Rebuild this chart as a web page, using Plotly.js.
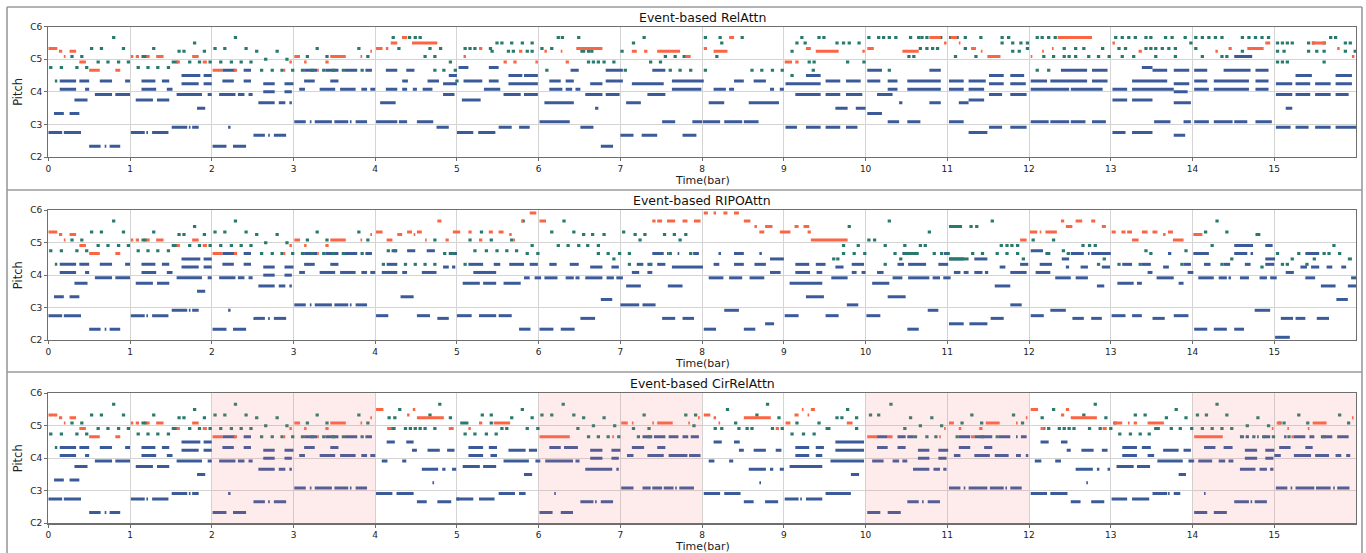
<!DOCTYPE html>
<html><head><meta charset="utf-8">
<script src="https://cdn.plot.ly/plotly-3.0.1.min.js"></script>
<style>html,body{margin:0;padding:0;background:#fff}#chart{width:1366px;height:553px}</style>
</head><body><div id="chart"></div>
<script>
// ---------- DATA (time in bars, pitch in MIDI numbers) ----------
const barTicks = [0,1,2,3,4,5,6,7,8,9,10,11,12,13,14,15];
const pitchTicks = [36,48,60,72,84];
const pitchLabels = ["C2","C3","C4","C5","C6"];
const panelTitles = ["Event-based RelAttn","Event-based RIPOAttn","Event-based CirRelAttn"];
const shadedBars = [[2,4],[6,8],[10,12],[14,16]];
const shortNoteLen = 0.04; // short notes given as [start, pitch]

// shared 4-bar prompt
const promptOrange = [[0.00,0.11,76],[0.13,0.17,75],[0.19,0.21,73],[0.26,0.34,75],[0.38,0.46,71],[0.50,0.63,68],[0.82,0.88,68],
[1.01,1.04,73],[1.07,1.11,73],[1.20,1.24,73],[1.32,1.41,73],[1.57,1.61,71],[1.76,1.84,73],[1.89,1.94,71],
[2.01,2.13,68],[2.27,2.31,68],[2.88,2.90,68],[2.95,2.98,71],
[3.01,3.08,73],[3.13,3.16,71],[3.29,3.31,68],[3.39,3.43,71],[3.45,3.64,73],[3.82,3.84,73],[3.94,3.96,75]];
const promptTeal = [[0.01,69],[0.14,69],[0.08,0.11,64],[0.27,73],[0.33,69],[0.39,73],[0.45,69],[0.51,76],[0.63,76],[0.59,71],[0.71,71],[0.78,80],[0.84,71],[0.90,76],[0.96,71],
[1.08,69],[1.14,73],[1.17,73],[1.20,69],[1.27,76],[1.32,69],[1.45,69],[1.51,1.59,71],[1.58,75],[1.64,75],[1.71,71],[1.77,78],[1.83,71],[1.89,75],[1.96,71],
[2.02,76],[2.09,71],[2.14,76],[2.22,71],[2.27,80],[2.34,71],[2.40,76],[2.46,71],[2.53,75],[2.59,68],[2.64,72],[2.72,68],[2.78,75],[2.84,68],[2.90,72],[2.97,68],
[3.09,68],[3.15,73],[3.21,68],[3.27,76],[3.35,68],[3.39,73],[3.47,68],[3.59,68],[3.78,76],[3.82,68],[3.89,73]];
const promptBlue = [[0.14,0.34,64],[0.38,0.50,64],[0.63,0.78,64],[0.94,1.00,64],[0.14,0.34,61],[0.45,0.50,61],[0.57,0.78,59],[0.82,1.00,59],[0.32,0.48,57],[0.07,0.19,52],[0.26,0.38,52],[0.00,0.17,45],[0.19,0.40,45],[0.50,0.64,40],[0.69,0.71,40],[0.75,0.88,40],
[1.14,1.31,64],[1.39,1.48,64],[1.14,1.32,61],[1.45,1.52,61],[1.07,1.28,57],[1.33,1.48,57],[1.57,1.88,59],[1.95,2.00,59],[1.63,1.86,66],[1.90,2.00,66],[1.63,1.84,63],[1.90,2.00,63],[1.82,1.92,54],[1.01,1.18,45],[1.20,1.22,45],[1.27,1.47,45],[1.51,1.70,47],[1.72,1.74,47],[1.76,1.84,47],
[2.13,2.29,68],[2.39,2.48,68],[2.13,2.27,64],[2.39,2.48,64],[2.63,2.77,63],[2.89,3.00,63],[2.63,2.77,60],[2.89,2.98,60],[2.09,2.29,59],[2.32,2.40,59],[2.45,2.50,59],[2.57,2.77,56],[2.82,2.90,56],[2.95,2.98,56],[2.20,2.23,47],[2.01,2.18,40],[2.26,2.42,40],[2.51,2.65,44],[2.69,2.71,44],[2.76,2.91,44],
[3.13,3.29,68],[3.39,3.55,68],[3.63,3.78,68],[3.88,3.96,68],[3.13,3.26,64],[3.45,3.55,64],[3.07,3.14,61],[3.32,3.51,61],[3.57,3.76,61],[3.83,3.90,61],[3.94,4.00,61],[3.01,3.15,49],[3.20,3.22,49],[3.26,3.47,49],[3.50,3.67,49],[3.69,3.71,49],[3.76,3.90,49]];

// RelAttn continuation
const relOrange = [[4.01,4.09,76],[4.13,4.16,76],[4.19,4.27,78],[4.33,4.39,80],[4.45,4.76,78],
[5.08,5.11,73],[5.27,5.31,76],[5.57,5.61,71],[5.69,5.73,71],[5.76,5.80,75],[5.96,5.99,71],[6.07,6.10,75],[6.27,6.29,75],[6.33,6.37,71],[6.46,6.78,76],
[7.14,7.20,75],[7.29,7.33,75],[7.45,7.73,75],[7.80,7.86,73],[8.02,8.06,76],[8.14,8.31,75],[8.33,8.39,80],
[9.01,9.10,71],[9.14,9.18,71],[9.27,9.33,76],[9.39,9.67,75],[9.96,9.99,75],[10.02,10.10,76],[10.45,10.65,75],[10.78,10.92,80],[10.96,10.99,78],
[11.04,11.12,80],[11.14,11.16,78],[11.29,11.35,76],[11.41,11.43,75],[11.49,11.65,73],[12.02,12.04,73],[12.16,12.18,75],[12.28,12.30,76],[12.35,12.77,80],
[13.02,13.05,78],[13.34,13.38,75],[14.28,14.31,75],[14.44,14.48,76],[14.67,14.87,76],[14.89,14.95,78],[15.46,15.63,78],[15.77,15.80,76],[15.95,15.98,73]];
const relTeal = [[4.20,80],[4.27,76],[4.33,80],[4.40,80],[4.47,80],[4.53,80],[4.59,73],[4.65,76],[4.71,73],[4.71,68],[4.78,76],[4.82,4.86,68],[4.90,71],[4.96,68],[4.98,64],
[5.08,76],[5.14,76],[5.20,76],[5.39,76],[5.41,75],[5.47,78],[5.53,78],[5.61,75],[5.65,78],[5.67,75],[5.78,78],[5.84,75],[5.90,78],[5.90,75],
[6.02,76],[6.08,68],[6.14,76],[6.22,80],[6.27,80],[6.47,80],[6.51,6.57,75],[6.59,75],[6.63,75],[6.59,71],[6.65,71],[6.71,71],[6.78,71],[6.90,71],
[7.00,75],[7.04,68],[7.14,78],[7.27,80],[7.35,71],[7.47,71],[7.53,73],[7.59,68],[7.65,73],[7.71,68],[7.76,73],[7.84,68],
[8.02,80],[8.02,68],[8.16,73],[8.20,80],[8.22,78],[8.47,80],[8.59,68],[8.71,68],[8.84,68],[8.96,68],
[9.08,66],[9.08,75],[9.14,78],[9.20,80],[9.24,78],[9.29,71],[9.34,68],[9.35,71],[9.41,80],[9.47,80],[9.63,78],[9.71,78],[9.76,71],[9.78,78],[9.90,78],[9.96,71],
[10.02,80],[10.14,80],[10.20,80],[10.27,80],[10.27,68],[10.35,80],[10.51,73],[10.53,80],[10.57,73],[10.63,80],[10.65,76],[10.67,80],[10.73,80],[10.73,76],[10.80,76],[10.84,80],[10.86,76],[10.90,80],
[11.02,80],[11.08,73],[11.10,80],[11.20,80],[11.20,76],[11.33,73],[11.39,80],[11.65,80],[11.65,78],[11.73,80],[11.78,78],[11.78,75],[11.86,75],[11.88,78],[11.96,78],[11.96,76],
[12.08,80],[12.08,68],[12.14,80],[12.16,73],[12.22,80],[12.22,68],[12.28,73],[12.30,80],[12.41,76],[12.41,73],[12.47,80],[12.47,73],[12.55,80],[12.55,76],[12.55,73],[12.65,80],[12.65,76],[12.71,73],[12.83,73],[12.88,76],[12.96,73],
[13.04,80],[13.08,76],[13.12,80],[13.12,73],[13.16,76],[13.20,80],[13.26,73],[13.28,80],[13.41,80],[13.41,76],[13.47,80],[13.47,76],[13.53,76],[13.53,73],[13.61,76],[13.65,80],[13.69,76],[13.73,80],[13.77,76],[13.77,73],[13.89,80],[13.96,78],
[14.02,80],[14.02,76],[14.10,80],[14.10,73],[14.18,80],[14.26,80],[14.34,80],[14.34,73],[14.40,73],[14.59,80],[14.59,75],[14.67,80],[14.75,80],[14.83,80],[14.91,80],
[15.02,78],[15.02,75],[15.02,71],[15.08,78],[15.08,71],[15.10,75],[15.14,78],[15.14,71],[15.20,78],[15.40,78],[15.40,75],[15.46,78],[15.50,75],[15.59,78],[15.59,75],[15.59,71],[15.67,80],[15.73,80],[15.85,78],[15.85,75],[15.91,78],[15.97,75]];
const relBlue = [[4.13,4.27,68],[4.38,4.48,68],[4.33,4.40,64],[4.64,4.78,64],[4.13,4.27,61],[4.33,4.39,61],[4.46,4.51,61],[4.58,4.70,61],[4.06,4.25,56],[4.83,4.97,59],[4.83,5.00,63],[4.90,5.00,66],[4.01,4.27,49],[4.29,4.39,49],[4.51,4.71,49],[4.75,4.90,47],
[5.02,5.14,69],[5.39,5.51,69],[5.08,5.31,64],[5.39,5.51,64],[5.63,5.80,66],[5.82,5.99,66],[5.63,5.99,63],[5.33,5.53,61],[5.57,5.78,59],[5.82,5.99,59],[5.06,5.29,57],[5.00,5.20,45],[5.26,5.47,45],[5.51,5.67,47],[5.76,5.89,47],
[6.01,6.38,49],[6.51,6.67,47],[6.76,6.91,40],[6.07,6.43,56],[6.69,6.73,54],[6.13,6.27,64],[6.33,6.43,64],[6.13,6.29,61],[6.33,6.41,61],[6.45,6.51,61],[6.39,6.49,68],[6.57,6.78,59],[6.82,6.99,59],[6.63,6.78,63],[6.82,7.03,64],[6.82,7.03,68],
[7.00,7.16,44],[7.26,7.45,44],[7.51,7.67,49],[7.76,7.93,44],[7.88,8.00,49],[8.01,8.22,49],[8.27,8.49,49],[8.51,8.69,49],[7.07,7.25,56],[7.33,7.55,59],[7.14,7.53,63],[7.39,7.55,68],[7.63,8.02,64],[7.63,7.99,61],
[8.08,8.27,56],[8.57,8.94,56],[8.14,8.29,61],[8.33,8.39,61],[8.39,8.51,64],[8.63,8.78,64],[8.83,8.88,61],[8.95,9.00,61],
[9.02,9.16,47],[9.27,9.45,47],[9.51,9.69,47],[9.76,9.90,47],[9.02,9.45,63],[9.14,9.45,59],[9.51,9.69,59],[9.76,9.96,59],[9.27,9.45,66],[9.51,9.69,64],[9.76,9.94,64],[9.63,9.78,54],[9.88,10.00,54],
[10.02,10.20,52],[10.02,10.20,68],[10.02,10.18,64],[10.27,10.39,64],[10.14,10.33,59],[10.27,10.39,61],[10.27,10.41,49],
[10.41,10.45,56],[10.51,10.67,49],[10.51,10.92,64],[10.51,10.92,61],[10.78,10.92,68],[10.78,10.92,56],
[11.02,11.20,64],[11.26,11.47,64],[11.02,11.20,61],[11.26,11.45,61],[11.02,11.20,49],[11.14,11.26,56],[11.26,11.45,57],[11.26,11.49,45],[11.51,11.69,66],[11.77,11.94,66],[11.51,11.69,63],[11.77,11.96,63],[11.51,11.67,59],[11.77,11.97,59],[11.51,11.67,47],[11.77,11.97,47],
[12.02,12.22,64],[12.26,12.71,64],[12.77,12.96,64],[12.02,12.49,61],[12.51,12.90,61],[12.39,12.71,68],[12.77,12.96,68],[12.02,12.24,49],[12.26,12.49,49],[12.51,12.69,49],[12.77,12.94,49],
[13.02,13.20,61],[13.26,13.77,61],[13.02,13.20,57],[13.26,13.51,57],[13.02,13.18,45],[13.26,13.51,45],[13.26,13.69,64],[13.38,13.51,69],[13.51,13.69,68],[13.77,13.96,68],[13.77,13.96,63],[13.77,13.94,60],[13.77,13.98,56],[13.77,13.91,44],[13.53,13.73,49],[13.89,13.98,49],
[14.02,14.20,49],[14.26,14.49,49],[14.51,14.67,49],[14.77,14.97,49],[14.02,14.18,68],[14.38,14.71,68],[14.77,14.93,68],[14.02,14.18,64],[14.26,14.69,64],[14.77,14.93,64],[14.02,14.20,61],[14.26,14.69,61],[14.77,14.93,61],[14.51,14.73,73],
[15.02,15.22,63],[15.26,15.44,63],[15.50,15.69,63],[15.75,15.95,63],[15.26,15.46,66],[15.75,15.95,66],[15.02,15.22,59],[15.26,15.44,59],[15.50,15.69,59],[15.75,15.91,59],[15.14,15.22,54],[15.02,15.20,47],[15.26,15.42,47],[15.50,15.69,47],[15.75,16.00,47]];

// RIPOAttn continuation
const ripoOrange = [[4.01,4.09,76],[4.14,4.21,73],[4.27,4.33,75],[4.39,4.45,76],[4.47,4.49,75],[4.51,4.57,76],[4.61,4.63,73],[4.76,4.81,80],[4.86,4.90,73],[4.95,5.04,76],
[5.14,5.18,76],[5.27,5.31,73],[5.39,5.44,76],[5.51,5.57,76],[5.64,5.67,75],[5.69,5.71,73],[5.79,5.81,80],[5.89,5.97,83],[6.01,6.09,80],
[7.39,7.43,80],[7.45,7.51,80],[7.57,7.67,80],[7.76,7.82,80],[7.90,7.98,80],[8.02,8.07,83],[8.14,8.17,83],[8.26,8.31,83],[8.39,8.45,83],[8.51,8.59,80],[8.64,8.67,78],[8.70,8.76,76],[8.77,8.86,78],[8.95,9.08,76],[9.13,9.18,78],[9.24,9.31,78],[9.29,9.33,76],[9.33,9.78,73],
[11.89,11.97,73],[12.01,12.10,76],[12.13,12.15,76],[12.20,12.34,76],[12.39,12.43,80],[12.45,12.53,78],[12.57,12.65,80],[12.76,12.81,80],[12.89,12.94,78],
[13.01,13.06,76],[13.13,13.18,76],[13.20,13.26,76],[13.26,13.34,73],[13.38,13.45,76],[13.51,13.57,76],[13.64,13.67,75],[13.70,13.76,76],[13.76,13.89,73],[14.01,14.12,75]];
const ripoTeal = [[4.08,64],[4.14,69],[4.22,69],[4.35,64],[4.47,64],[4.59,64],[4.71,64],[4.71,73],[4.83,68],[4.92,4.98,68],
[5.08,64],[5.14,73],[5.20,69],[5.28,76],[5.34,69],[5.40,73],[5.47,69],[5.59,69],[5.65,73],[5.71,69],[5.79,80],[5.84,68],[5.90,71],[5.97,68],
[6.14,76],[6.22,71],[6.29,80],[6.34,71],[6.41,76],[6.47,71],[6.53,75],[6.58,71],[6.64,75],[6.71,71],[6.71,68],[6.78,75],[6.83,68],[6.90,66],[6.97,68],
[7.02,76],[7.09,68],[7.09,64],[7.16,75],[7.22,73],[7.28,75],[7.35,64],[7.52,75],[7.59,68],[7.64,75],[7.71,73],[7.78,75],[7.84,68],
[9.59,66],[9.64,66],[9.71,71],[9.71,68],[9.78,78],[9.84,68],[9.89,71],[9.97,68],[10.02,73],[10.09,73],[10.22,71],[10.22,64],[10.27,80],[10.34,68],[10.41,66],
[10.46,71],[10.47,10.65,68],[10.65,71],[10.71,71],[10.76,76],[10.82,68],[10.91,68],[10.98,68],[11.02,11.18,78],[11.02,11.26,66],[11.27,78],[11.29,68],[11.34,78],[11.41,68],[11.53,80],[11.59,68],[11.64,71],[11.71,71],[11.71,68],[11.77,71],[11.84,71],[11.84,68],[11.91,66],
[12.03,73],[12.21,68],[12.28,73],[12.40,69],[12.46,68],[12.64,71],[12.72,71],[12.79,71],[12.83,64],[12.90,66],
[13.08,64],[13.34,64],[13.41,69],[13.47,68],[13.85,64],[13.90,69],
[14.14,76],[14.22,71],[14.28,80],[14.34,64],[14.40,76],[14.46,66],[14.77,14.83,75],[14.83,63],
[15.02,68],[15.08,64],[15.14,64],[15.20,15.24,66],[15.28,68],[15.38,64],[15.47,66],[15.59,68],[15.65,68],[15.71,71],[15.78,68],[15.90,15.95,66]];
const ripoBlue = [[4.14,4.27,64],[4.08,4.27,61],[4.33,4.39,61],[4.57,4.75,61],[4.20,4.27,69],[4.39,4.49,69],[4.63,4.73,69],[4.83,4.90,63],[4.94,4.98,63],[4.90,5.00,68],[4.31,4.47,52],[4.01,4.16,45],[4.51,4.67,45],[4.76,4.90,44],
[5.14,5.32,64],[5.45,5.53,64],[5.64,5.82,64],[5.89,5.99,64],[5.20,5.48,61],[5.07,5.28,57],[5.32,5.48,57],[5.57,5.78,57],[5.82,5.89,59],[5.95,6.03,59],[5.00,5.18,45],[5.27,5.48,45],[5.51,5.67,45],[5.76,5.90,40],
[6.13,6.22,64],[6.38,6.49,64],[6.07,6.23,59],[6.33,6.43,59],[6.45,6.50,59],[6.57,6.78,59],[6.83,6.92,59],[6.95,7.03,59],[6.63,6.78,63],[6.89,6.98,63],[6.01,6.18,40],[6.27,6.44,40],[6.51,6.69,44],[6.76,6.90,51],
[7.00,7.23,49],[7.27,7.43,49],[7.07,7.25,56],[7.58,7.76,56],[7.14,7.23,61],[7.33,7.39,61],[7.20,7.28,64],[7.33,7.39,64],[7.39,7.53,68],[7.45,7.55,64],[7.63,7.90,63],[7.90,8.01,63],[7.57,7.59,68],[7.70,7.72,68],[7.89,7.96,68],[7.51,7.67,44],[7.76,7.90,44],
[8.02,8.17,40],[8.51,8.65,40],[8.27,8.45,47],[8.77,8.88,42],[8.08,8.26,59],[8.33,8.49,59],[8.58,8.76,59],[8.14,8.21,64],[8.39,8.51,64],[8.64,8.78,64],[8.20,8.23,68],[8.39,8.51,68],[8.70,8.73,68],[8.83,9.00,66],[8.83,8.96,61],
[9.01,9.18,45],[9.51,9.67,45],[9.07,9.47,57],[9.27,9.49,52],[9.77,9.91,49],[9.14,9.31,64],[9.39,9.51,64],[9.63,9.73,63],[9.83,9.98,64],[9.14,9.32,61],[9.40,9.47,61],[9.83,9.89,61],[9.95,10.00,61],[9.58,9.78,59],
[10.01,10.18,45],[10.08,10.29,57],[10.27,10.49,52],[10.14,10.22,61],[10.33,10.45,59],[10.39,10.47,64],
[10.52,10.74,64],[10.89,11.01,64],[10.52,10.78,59],[10.82,10.91,59],[10.95,11.04,59],[10.76,10.89,47],[10.51,10.65,40],[10.45,10.51,68],[10.96,11.03,68],
[11.02,11.20,66],[11.33,11.49,66],[11.08,11.16,61],[11.20,11.26,61],[11.33,11.43,61],[11.46,11.50,61],[11.58,11.77,56],[11.77,11.91,49],[11.02,11.20,42],[11.27,11.49,42],[11.53,11.69,44],[11.64,11.71,63],[11.77,11.97,61],[11.89,11.99,64],
[12.02,12.17,69],[12.20,12.26,68],[12.40,12.49,66],[12.51,12.67,68],[12.72,12.74,68],[12.76,13.00,68],[12.13,12.28,64],[12.45,12.49,63],[12.63,12.72,63],[12.89,12.99,63],[12.08,12.26,61],[12.32,12.51,59],[12.57,12.72,59],[12.83,12.92,56],[12.02,12.18,45],[12.26,12.45,47],[12.53,12.67,44],[12.76,12.89,44],
[13.01,13.18,45],[13.26,13.38,45],[13.51,13.66,44],[13.77,13.95,45],[13.08,13.28,57],[13.32,13.38,57],[13.14,13.26,64],[13.38,13.49,64],[13.64,13.71,63],[13.89,13.98,64],[13.45,13.51,61],[13.94,14.01,61],[13.56,13.77,59],[13.83,13.89,57],[13.70,13.74,68],
[14.01,14.20,68],[14.51,14.67,68],[14.71,14.74,68],[14.51,14.74,71],[14.89,14.98,71],[14.14,14.22,64],[14.38,14.46,64],[14.64,14.71,64],[14.89,15.00,64],[14.89,15.01,66],[14.07,14.26,59],[14.32,14.42,59],[14.44,14.47,59],[14.58,14.69,59],[14.82,14.91,59],[14.95,15.03,59],[14.76,14.95,47],[14.02,14.18,40],[14.26,14.42,40],[14.51,14.63,40],
[15.01,15.19,37],[15.08,15.23,44],[15.26,15.38,44],[15.52,15.67,44],[15.14,15.24,61],[15.32,15.40,63],[15.45,15.55,63],[15.64,15.71,63],[15.82,15.88,63],[15.38,15.55,68],[15.38,15.50,59],[15.57,15.75,56],[15.90,16.00,56],[15.76,15.90,51],[15.94,16.00,59]];

// CirRelAttn continuation
const cirOrange = [[4.01,4.10,78],[4.15,4.20,71],[4.39,4.42,76],[4.46,4.49,78],[4.51,4.84,75],[4.90,4.96,71],
[5.14,5.17,71],[5.27,5.31,73],[5.45,5.65,73],[6.01,6.38,68],[6.90,6.92,68],[7.01,7.09,73],[7.14,7.16,73],[7.39,7.41,73],[7.45,7.64,73],[7.83,7.85,73],[7.95,7.97,75],
[8.02,8.10,76],[8.14,8.17,75],[8.20,8.22,73],[8.51,8.84,75],[8.90,8.94,71],[9.02,9.08,73],[9.13,9.18,76],[9.22,9.24,78],[9.29,9.31,76],[9.33,9.38,78],[9.77,9.84,73],[10.02,10.14,68],[10.27,10.33,68],
[10.90,10.92,68],[10.96,10.98,71],[11.02,11.08,73],[11.14,11.17,71],[11.29,11.33,68],[11.39,11.43,71],[11.47,11.64,73],[11.84,11.86,73],[11.96,11.98,75],
[12.02,12.11,78],[12.14,12.19,71],[12.39,12.43,76],[12.45,12.49,78],[12.51,12.83,75],[12.90,12.95,71],[13.04,13.14,73],[13.21,13.23,73],[13.28,13.32,73],[13.45,13.65,73],[14.02,14.37,68],
[14.97,14.99,71],[15.03,15.08,73],[15.16,15.18,71],[15.21,15.24,68],[15.41,15.43,71],[15.47,15.64,73],[15.95,15.97,75]];
const cirTeal = [[4.15,75],[4.22,75],[4.28,78],[4.15,4.25,71],[4.35,71],[4.41,71],[4.47,71],[4.53,71],[4.59,71],[4.65,76],[4.71,71],[4.77,80],[4.90,75],
[5.04,5.14,73],[5.08,69],[5.20,69],[5.29,76],[5.34,69],[5.40,76],[5.40,73],[5.46,69],[5.53,71],[5.59,71],[5.65,75],[5.78,78],[5.84,71],[5.90,75],[5.97,71],
[6.02,76],[6.14,76],[6.28,80],[6.41,76],[6.46,71],[6.53,75],[6.59,68],[6.65,72],[6.71,68],[6.78,75],[6.83,68],[6.91,72],[6.96,68],
[7.14,71],[7.20,68],[7.27,76],[7.33,68],[7.33,71],[7.78,76],[7.88,72],[7.90,76],
[8.14,71],[8.22,71],[8.29,78],[8.39,73],[8.43,71],[8.53,71],[8.59,71],[8.65,76],[8.78,80],[8.84,71],[8.92,75],[8.96,71],
[9.08,69],[9.14,73],[9.22,69],[9.35,69],[9.41,73],[9.51,9.57,71],[9.63,75],[9.69,75],[9.76,78],[9.87,75],[9.87,71],
[10.04,76],[10.14,76],[10.29,80],[10.46,71],[10.53,75],[10.59,68],[10.65,72],[10.73,68],[10.79,75],[10.84,68],[10.91,72],
[11.10,68],[11.16,73],[11.28,76],[11.40,73],[11.41,68],[11.59,68],[11.79,76],[11.90,73],
[12.14,75],[12.16,71],[12.22,71],[12.28,78],[12.35,71],[12.41,71],[12.47,71],[12.53,71],[12.65,76],[12.72,71],[12.79,80],[12.85,71],[12.92,75],[12.98,71],
[13.03,73],[13.09,69],[13.22,69],[13.28,76],[13.34,69],[13.40,76],[13.45,69],[13.53,13.60,71],[13.66,75],[13.72,71],[13.78,78],[13.83,71],[13.90,75],[13.97,71],
[14.04,76],[14.10,71],[14.15,76],[14.22,71],[14.28,80],[14.34,71],[14.40,76],[14.46,71],[14.59,68],[14.65,72],[14.73,68],[14.78,75],[14.85,68],[14.91,72],[14.97,68],
[15.05,73],[15.10,73],[15.16,68],[15.28,76],[15.39,73],[15.59,68],[15.78,76],[15.89,73]];
const cirBlue = [[4.14,4.24,66],[4.38,4.47,66],[4.45,4.51,63],[4.64,4.79,63],[4.88,4.97,63],[4.08,4.15,59],[4.33,4.38,59],[4.57,4.77,56],[4.82,4.86,56],[4.94,4.99,56],[4.70,4.72,51],[4.01,4.21,47],[4.26,4.47,47],[4.51,4.63,44],[4.76,4.93,44],[4.99,5.03,45],
[5.14,5.32,64],[5.39,5.49,64],[5.14,5.32,61],[5.41,5.49,61],[5.07,5.28,57],[5.32,5.48,57],[5.57,5.88,59],[5.96,6.02,59],[5.63,5.84,63],[5.88,5.98,63],[5.82,5.92,54],[5.00,5.20,45],[5.27,5.46,45],[5.51,5.71,47],[5.76,5.84,47],
[6.01,6.17,40],[6.27,6.42,40],[6.19,6.21,47],[6.13,6.27,64],[6.31,6.48,64],[6.08,6.42,59],[6.45,6.50,59],[6.63,6.78,63],[6.89,7.00,63],[6.63,6.78,60],[6.89,6.98,60],[6.57,6.90,56],[6.95,6.98,56],[6.51,6.67,44],[6.69,6.71,44],[6.76,6.91,44],
[7.08,7.16,61],[7.33,7.53,61],[7.59,7.82,61],[7.84,7.98,61],[7.14,7.29,64],[7.45,7.55,64],[7.27,7.39,68],[7.41,7.55,68],[7.59,7.71,68],[7.76,7.83,68],[7.86,7.96,68],[7.01,7.16,49],[7.27,7.37,49],[7.39,7.51,49],[7.53,7.65,49],[7.67,7.69,49],[7.72,7.90,49],
[8.02,8.22,47],[8.27,8.47,47],[8.14,8.24,66],[8.39,8.46,66],[8.45,8.51,63],[8.63,8.78,63],[8.90,8.97,63],[8.08,8.15,59],[8.33,8.38,59],[8.57,8.78,56],[8.83,8.87,56],[8.95,9.00,56],[8.70,8.72,51],[8.51,8.63,44],[8.77,8.93,44],
[9.01,9.18,45],[9.20,9.22,45],[9.27,9.47,45],[9.51,9.82,47],[9.07,9.47,57],[9.14,9.31,64],[9.39,9.49,64],[9.14,9.31,61],[9.39,9.47,61],[9.57,9.98,59],[9.63,9.98,63],[9.63,9.98,66],[9.82,9.92,54],
[10.02,10.18,40],[10.27,10.43,40],[10.14,10.27,68],[10.39,10.49,68],[10.14,10.27,64],[10.39,10.49,64],[10.08,10.22,59],[10.33,10.41,59],[10.45,10.51,59],
[10.64,10.78,63],[10.89,11.01,63],[10.64,10.78,60],[10.89,10.99,60],[10.51,10.59,68],[10.58,10.78,56],[10.83,10.91,56],[10.95,10.99,56],[10.51,10.65,44],[10.69,10.71,44],[10.76,10.91,44],
[11.14,11.28,68],[11.33,11.55,68],[11.63,11.77,68],[11.84,11.86,68],[11.90,11.97,68],[11.14,11.28,64],[11.45,11.55,64],[11.08,11.16,61],[11.33,11.52,61],[11.58,11.75,61],[11.84,11.90,61],[11.96,11.99,61],[11.02,11.16,49],[11.20,11.22,49],[11.26,11.49,49],[11.52,11.69,49],[11.71,11.73,49],[11.77,11.91,49],
[12.02,12.22,47],[12.26,12.47,47],[12.14,12.24,66],[12.39,12.47,66],[12.46,12.51,63],[12.64,12.79,63],[12.89,12.96,63],[12.07,12.15,59],[12.32,12.39,59],[12.57,12.78,56],[12.83,12.86,56],[12.96,12.99,56],[12.70,12.72,51],[12.51,12.63,44],[12.76,12.92,44],
[13.14,13.32,64],[13.38,13.49,64],[13.14,13.32,61],[13.45,13.53,61],[13.07,13.28,57],[13.32,13.48,57],[13.01,13.20,45],[13.26,13.47,45],[13.51,13.69,47],[13.70,13.72,47],[13.77,13.85,47],[13.64,13.83,63],[13.89,13.98,63],[13.57,13.88,59],[13.95,14.02,59],[13.83,13.92,54],
[14.07,14.24,59],[14.32,14.40,59],[14.44,14.50,59],[14.14,14.28,64],[14.38,14.49,64],[14.14,14.16,47],[14.02,14.18,40],[14.26,14.42,40],[14.51,14.69,44],[14.71,14.73,44],[14.76,14.91,44],[14.58,14.77,56],[14.82,14.91,56],[14.95,14.99,56],[14.64,14.79,63],[14.89,15.00,63],[14.64,14.79,60],[14.89,14.99,60],[14.58,14.60,68],[14.65,14.69,68],[14.79,14.81,68],[14.87,14.95,68],
[15.06,15.20,64],[15.38,15.47,64],[15.00,15.08,61],[15.24,15.45,61],[15.50,15.67,61],[15.75,15.82,61],[15.88,15.93,61],[15.12,15.15,68],[15.24,15.38,68],[15.43,15.49,68],[15.57,15.71,68],[15.77,15.91,68],[15.02,15.16,49],[15.20,15.22,49],[15.26,15.49,49],[15.51,15.69,49],[15.72,15.74,49],[15.77,15.92,49]];

// ---------- DRAWING ----------
const W = 1366, H = 553;
const px = v => v / W, py = v => 1 - v / H;
const COLORS = {blue:'#3b5a99', teal:'#277a6c', orange:'#fb6543'};

function toLine(list){
  const xs = [], ys = [];
  for (const n of list){
    let s, e, p;
    if (n.length === 2){ s = n[0]; e = n[0] + shortNoteLen; p = n[1]; }
    else { s = n[0]; e = n[1]; p = n[2]; }
    xs.push(s, e, null); ys.push(p, p, null);
  }
  return {xs, ys};
}

const panels = [
  {blue: promptBlue.concat(relBlue),  teal: promptTeal.concat(relTeal),  orange: promptOrange.concat(relOrange)},
  {blue: promptBlue.concat(ripoBlue), teal: promptTeal.concat(ripoTeal), orange: promptOrange.concat(ripoOrange)},
  {blue: promptBlue.concat(cirBlue),  teal: promptTeal.concat(cirTeal),  orange: promptOrange.concat(cirOrange)}
];
// pixel geometry of each axes box: [top(C6), bottom(C2)], title y, xlabel top y
const boxes = [[26.7,157,17,173],[210.3,340,200,356],[393.3,523.3,383,539]];
const xLeft = 48.3, xRight = 1356;

const traces = [];
panels.forEach((pn, i) => {
  const s = i === 0 ? '' : String(i + 1);
  ['blue','teal','orange'].forEach(k => {
    const d = toLine(pn[k]);
    traces.push({type:'scatter', mode:'lines', x:d.xs, y:d.ys, xaxis:'x'+s, yaxis:'y'+s,
      line:{color:COLORS[k], width:3}, hoverinfo:'skip', showlegend:false, connectgaps:false});
  });
});

const layout = {
  width:W, height:H, margin:{l:0,r:0,t:0,b:0}, paper_bgcolor:'#fff', plot_bgcolor:'#fff',
  showlegend:false, shapes:[], annotations:[],
  font:{family:'DejaVu Sans, sans-serif', color:'#222'}
};
const tickFont = {family:'DejaVu Sans, sans-serif', size:9, color:'#222'};
boxes.forEach((b, i) => {
  const s = i === 0 ? '' : String(i + 1);
  layout['xaxis'+s] = {domain:[px(xLeft), px(xRight)], range:[0,16], anchor:'y'+s,
    tickmode:'array', tickvals:barTicks, ticktext:barTicks.map(String),
    showgrid:true, gridcolor:'#d4d4d4', gridwidth:1, zeroline:false,
    showline:true, mirror:true, linecolor:'#6e6e6e', linewidth:1.2,
    ticks:'outside', ticklen:3, tickcolor:'#6e6e6e', tickfont:tickFont, fixedrange:true};
  layout['yaxis'+s] = {domain:[py(b[1]), py(b[0])], range:[36,84], anchor:'x'+s,
    tickmode:'array', tickvals:pitchTicks, ticktext:pitchLabels,
    showgrid:true, gridcolor:'#d4d4d4', gridwidth:1, zeroline:false,
    showline:true, mirror:true, linecolor:'#6e6e6e', linewidth:1.2,
    ticks:'outside', ticklen:3, tickcolor:'#6e6e6e', tickfont:tickFont, fixedrange:true};
  layout.annotations.push({text:panelTitles[i], xref:'paper', yref:'paper', x:px((xLeft+xRight)/2), y:py(b[2]),
    xanchor:'center', yanchor:'middle', showarrow:false, font:{size:12.5, color:'#111'}});
  layout.annotations.push({text:'Time(bar)', xref:'paper', yref:'paper', x:px((xLeft+xRight)/2), y:py(b[3]),
    xanchor:'center', yanchor:'top', showarrow:false, borderpad:0, font:{size:11, color:'#222'}});
  layout.annotations.push({text:'Pitch', xref:'paper', yref:'paper', x:px(18), y:py((b[0]+b[1])/2),
    xanchor:'center', yanchor:'middle', textangle:-90, showarrow:false, font:{size:11.5, color:'#222'}});
});
// panel frames
const frameColor = '#9a9a9a';
[[7,7,7,553],[1362,7,1362,553]].forEach(l => layout.shapes.push({type:'line', xref:'paper', yref:'paper',
  x0:px(l[0]), y0:py(l[1]), x1:px(l[2]), y1:py(l[3]), line:{color:frameColor, width:1.6}}));
[7,190,372].forEach(yv => layout.shapes.push({type:'line', xref:'paper', yref:'paper',
  x0:px(7), x1:px(1362), y0:py(yv), y1:py(yv), line:{color:frameColor, width:1.6}}));
// cyclic shading in the third panel
shadedBars.forEach(r => layout.shapes.push({type:'rect', xref:'x3', yref:'y3 domain', x0:r[0], x1:r[1], y0:0, y1:1,
  fillcolor:'rgba(250,120,120,0.14)', line:{width:0}, layer:'above'}));

Plotly.newPlot('chart', traces, layout, {displayModeBar:false, staticPlot:true});
</script>
</body></html>
